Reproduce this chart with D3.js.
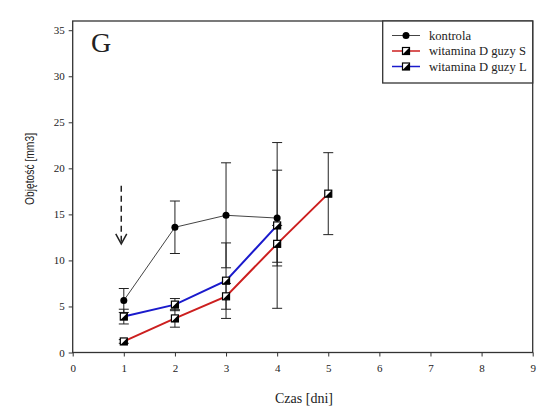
<!DOCTYPE html>
<html>
<head>
<meta charset="utf-8">
<script src="https://cdn.jsdelivr.net/npm/d3@7"></script>
<style>
  body { margin: 0; background: #fff; }
  text { font-family: "Liberation Serif", "DejaVu Serif", serif; fill: #222; }
</style>
</head>
<body>
<script>
//data
var days = [1, 2, 3, 4, 5];
var kontrola = [5.65, 13.6, 14.9, 14.6];
var kontrolaErr = [1.3, 2.85, 5.7, 5.2];
var guzyS = [1.2, 3.7, 6.1, 11.8, 17.25];
var guzySErr = [0.2, 0.95, 1.4, 2.0, 4.45];
var guzyL = [3.9, 5.2, 7.8, 13.8];
var guzyLErr = [0.8, 0.66, 4.1, 9.0];
var xTicks = [0, 1, 2, 3, 4, 5, 6, 7, 8, 9];
var yTicks = [0, 5, 10, 15, 20, 25, 30, 35];
var legendNames = ["kontrola", "witamina D guzy S", "witamina D guzy L"];
//dashed arrow, in data units [x, yFrom, yTo]
var arrow = [0.95, 18.1, 11.8];

var svg = d3.select("body")
    .append("svg")
    .attr("width", 548)
    .attr("height", 411);

var x = d3.scaleLinear()
    .domain([0, 9])
    .range([72.7, 532.7]);

var y = d3.scaleLinear()
    .domain([0, 36])
    .range([352.5, 21]);

//axes
var xAxis = svg.append("g")
    .attr("transform", "translate(0," + y(0) + ")")
    .call(d3.axisBottom(x).tickValues(xTicks).tickSize(4).tickPadding(8));

var yAxis = svg.append("g")
    .attr("transform", "translate(" + x(0) + ",0)")
    .call(d3.axisLeft(y).tickValues(yTicks).tickSize(4).tickPadding(4));

svg.selectAll(".domain").remove();
svg.selectAll(".tick line").attr("stroke", "#333");
svg.selectAll(".tick text")
    .style("font-family", "Liberation Serif")
    .style("font-size", "11px")
    .attr("fill", "#333");

//frame
svg.append("rect")
    .attr("x", x(0))
    .attr("y", y(36))
    .attr("width", x(9) - x(0))
    .attr("height", y(0) - y(36))
    .attr("fill", "none")
    .attr("stroke", "#333")
    .attr("stroke-width", 1.3);

//titles
svg.append("text")
    .attr("x", 304)
    .attr("y", 403)
    .attr("text-anchor", "middle")
    .style("font-size", "14px")
    .text("Czas [dni]");

svg.append("text")
    .attr("transform", "translate(34,169) rotate(-90)")
    .attr("text-anchor", "middle")
    .attr("textLength", 72)
    .attr("lengthAdjust", "spacingAndGlyphs")
    .style("font-family", "Liberation Sans")
    .style("font-size", "12px")
    .attr("fill", "#444")
    .text("Objętość [mm3]");

svg.append("text")
    .attr("x", 91)
    .attr("y", 52)
    .style("font-size", "28px")
    .attr("fill", "#111")
    .text("G");

//dashed arrow
svg.append("line")
    .attr("x1", x(arrow[0])).attr("x2", x(arrow[0]))
    .attr("y1", y(arrow[1])).attr("y2", y(arrow[2]))
    .attr("stroke", "#222")
    .attr("stroke-width", 1.5)
    .attr("stroke-dasharray", "6,4");

svg.append("path")
    .attr("d", "M" + (x(arrow[0]) - 5.5) + "," + (y(arrow[2]) - 10) +
        "L" + x(arrow[0]) + "," + y(arrow[2]) +
        "L" + (x(arrow[0]) + 5.5) + "," + (y(arrow[2]) - 10))
    .attr("fill", "none")
    .attr("stroke", "#222")
    .attr("stroke-width", 1.5);

function toPoints(vals, errs) {
    return vals.map(function(v, i) {
        return { x: days[i], y: v, e: errs[i] };
    });
}

var series = [
    { name: legendNames[0], pts: toPoints(kontrola, kontrolaErr), color: "#444", width: 1, marker: "circle" },
    { name: legendNames[1], pts: toPoints(guzyS, guzySErr), color: "#cc1f1f", width: 2, marker: "square" },
    { name: legendNames[2], pts: toPoints(guzyL, guzyLErr), color: "#1a1acc", width: 2, marker: "square" }
];

var line = d3.line()
    .x(function(d){ return x(d.x); })
    .y(function(d){ return y(d.y); });

//error bars first
series.forEach(function(s) {
    var g = svg.append("g");
    s.pts.forEach(function(d) {
        var cx = x(d.x);
        g.append("line")
            .attr("x1", cx).attr("x2", cx)
            .attr("y1", y(d.y - d.e)).attr("y2", y(d.y + d.e))
            .attr("stroke", "#222").attr("stroke-width", 1);
        [d.y - d.e, d.y + d.e].forEach(function(v) {
            g.append("line")
                .attr("x1", cx - 5).attr("x2", cx + 5)
                .attr("y1", y(v)).attr("y2", y(v))
                .attr("stroke", "#222").attr("stroke-width", 1);
        });
    });
});

function drawMarker(g, type, cx, cy) {
    var h = 3.5;
    if (type == "circle") {
        g.append("circle")
            .attr("cx", cx).attr("cy", cy).attr("r", h)
            .attr("fill", "#000");
    } else {
        g.append("rect")
            .attr("x", cx - h).attr("y", cy - h)
            .attr("width", 2 * h).attr("height", 2 * h)
            .attr("fill", "#fff");
        g.append("path")
            .attr("d", "M" + (cx + h) + "," + (cy - h) + "L" + (cx + h) + "," + (cy + h) + "L" + (cx - h) + "," + (cy + h) + "Z")
            .attr("fill", "#000");
        g.append("rect")
            .attr("x", cx - h).attr("y", cy - h)
            .attr("width", 2 * h).attr("height", 2 * h)
            .attr("fill", "none")
            .attr("stroke", "#000")
            .attr("stroke-width", 1.2);
    }
}

//lines and markers
series.forEach(function(s) {
    svg.append("path")
        .datum(s.pts)
        .attr("d", line)
        .attr("fill", "none")
        .attr("stroke", s.color)
        .attr("stroke-width", s.width);
    var g = svg.append("g");
    s.pts.forEach(function(d) {
        drawMarker(g, s.marker, x(d.x), y(d.y));
    });
});

//legend
var legend = svg.append("g");
legend.append("rect")
    .attr("x", 382.7)
    .attr("y", y(36))
    .attr("width", x(9) - 382.7)
    .attr("height", 62)
    .attr("fill", "#fff")
    .attr("stroke", "#333")
    .attr("stroke-width", 1.3);

series.forEach(function(s, i) {
    var ly = 35.5 + i * 15.5;
    legend.append("line")
        .attr("x1", 392).attr("x2", 420)
        .attr("y1", ly).attr("y2", ly)
        .attr("stroke", s.color)
        .attr("stroke-width", s.width == 1 ? 1 : 1.5);
    drawMarker(legend, s.marker, 406, ly);
    legend.append("text")
        .attr("x", 429)
        .attr("y", ly + 4)
        .style("font-size", "12.6px")
        .text(s.name);
});
</script>
</body>
</html>
